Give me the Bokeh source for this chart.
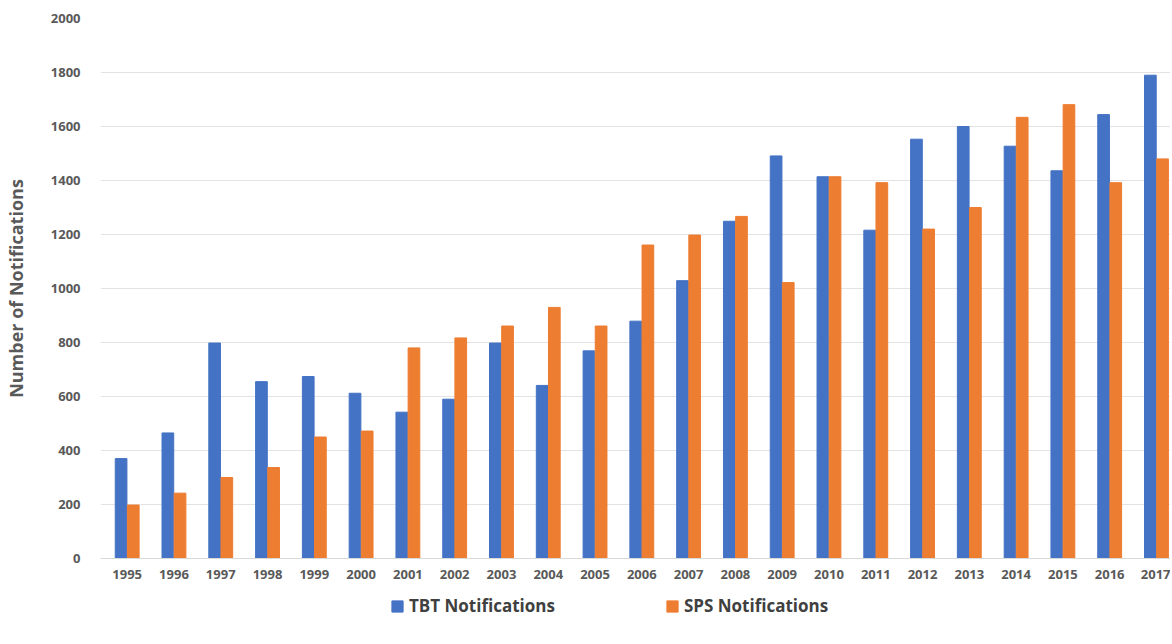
from bokeh.plotting import figure
from bokeh.layouts import column
from bokeh.models import Range1d, FixedTicker, Legend, LegendItem
from bokeh.embed import file_html
from bokeh.resources import INLINE

years = list(range(1995, 2018))
tbt = [370, 465, 798, 655, 674, 612, 542, 590, 798, 641, 769, 879, 1029, 1249,
       1491, 1414, 1216, 1553, 1600, 1527, 1436, 1644, 1790]
sps = [198, 242, 300, 337, 450, 472, 780, 817, 861, 930, 861, 1161, 1198, 1267,
       1022, 1414, 1392, 1220, 1300, 1634, 1681, 1392, 1480]
colors = {"TBT Notifications": "#4472C4", "SPS Notifications": "#ED7D31"}

p = figure(frame_width=1070, frame_height=540, output_backend="svg", toolbar_location=None,
           x_range=Range1d(1994.43, 2017.3), y_range=Range1d(0, 2000),
           min_border_top=18, min_border_left=0, min_border_right=0,
           min_border_bottom=0)
p.outline_line_color = None

x_tbt = [y - 0.13 for y in years]
x_sps = [y + 0.13 for y in years]
p.vbar(x=x_tbt, top=tbt, width=0.25, color=colors["TBT Notifications"])
p.vbar(x=x_sps, top=sps, width=0.25, color=colors["SPS Notifications"])

p.xaxis.ticker = FixedTicker(ticks=years)
p.yaxis.ticker = FixedTicker(ticks=list(range(0, 2001, 200)))
for ax in (p.xaxis[0], p.yaxis[0]):
    ax.axis_line_color = None
    ax.major_tick_line_color = None
    ax.minor_tick_line_color = None
    ax.major_label_text_font = "Open Sans"
    ax.major_label_text_font_style = "bold"
    ax.major_label_text_font_size = "13px"
    ax.major_label_text_color = "#595959"
p.xaxis.axis_line_color = "#d9d9d9"
p.yaxis.major_label_standoff = 14
p.yaxis.axis_label_standoff = 20
p.yaxis.axis_label = "Number of Notifications"
p.yaxis.axis_label_text_font = "Open Sans"
p.yaxis.axis_label_text_font_size = "18px"
p.yaxis.axis_label_text_font_style = "bold"
p.yaxis.axis_label_text_color = "#595959"
p.xgrid.grid_line_color = None
p.ygrid.grid_line_color = "#e3e3e3"

# legend lives in its own strip below the chart
lf = figure(width=1156, height=42, output_backend="svg", toolbar_location=None,
            x_range=Range1d(0, 1), y_range=Range1d(0, 1), min_border=0)
lf.axis.visible = False
lf.grid.visible = False
lf.outline_line_color = None
items = []
for name, c in colors.items():
    r = lf.vbar(x=[5], top=[1], width=0.1, color=c)
    items.append(LegendItem(label=name, renderers=[r]))
legend = Legend(items=items, orientation="horizontal", location=(290, 6), spacing=110,
                label_text_font="Open Sans", label_text_font_style="bold",
                label_text_font_size="17px", label_text_color="#404040",
                glyph_width=14, glyph_height=14, border_line_color=None,
                background_fill_alpha=0, padding=0, margin=0)
lf.add_layout(legend, "center")

open("out.html", "w").write(file_html(column(p, lf, spacing=0), INLINE))
